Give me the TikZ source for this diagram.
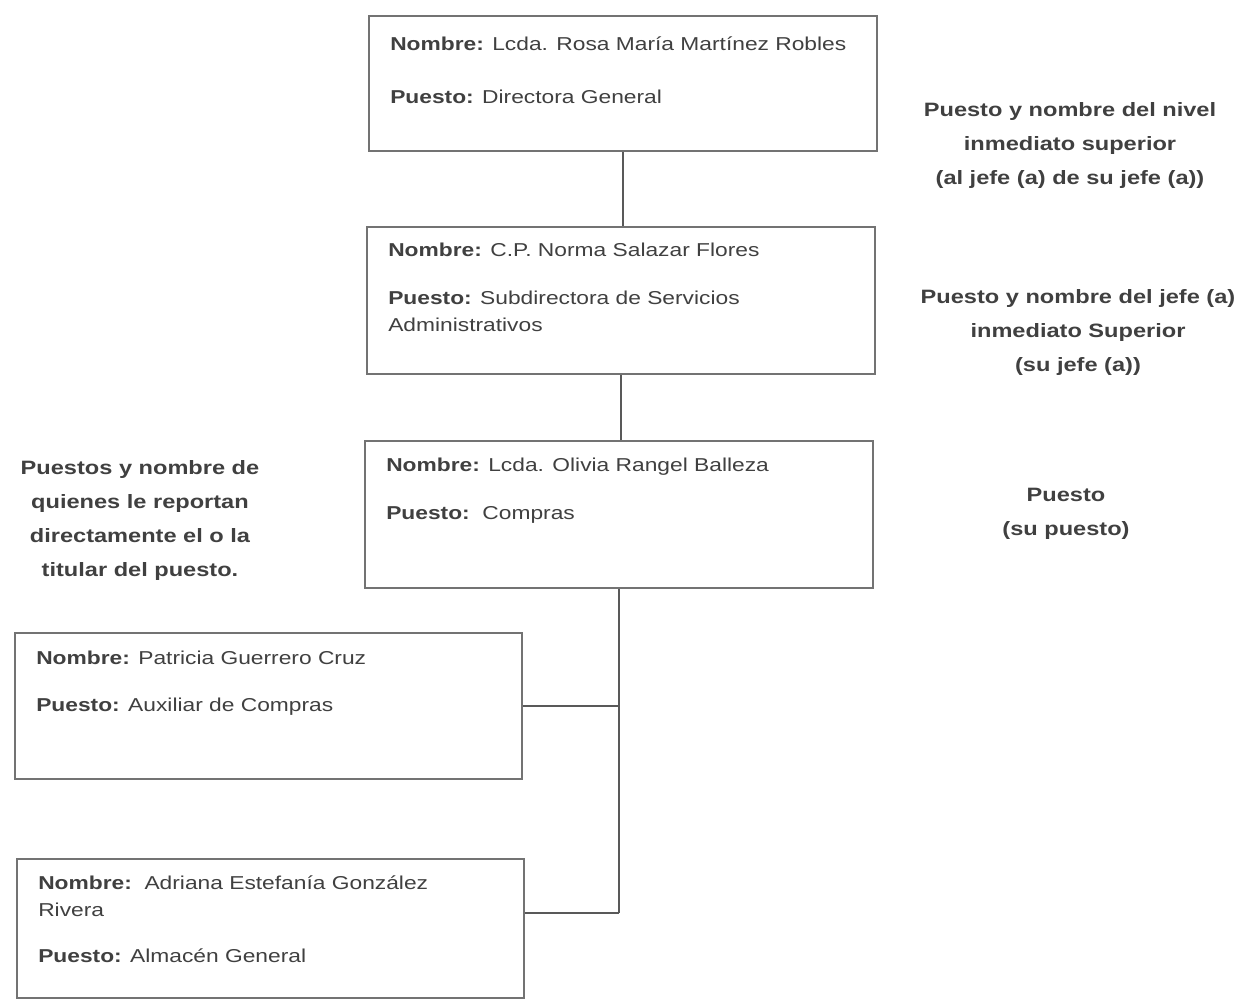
\documentclass[tikz,border=0pt]{standalone}
\usepackage{fontspec}
\setmainfont[FakeStretch=1.22]{Liberation Sans}
\begin{document}
\begin{tikzpicture}[x=0.75pt,y=-0.75pt,
  box/.style={draw=black!55,line width=1.6pt,anchor=north west,inner sep=0pt},
  txt/.style={anchor=base west,inner sep=0pt,font=\fontsize{14pt}{17pt}\selectfont,text=black!75},
  side/.style={align=center,inner sep=0pt,font=\fontsize{14.5pt}{25.5pt}\selectfont\bfseries,text=black!75},
  conn/.style={draw=black!65,line width=1.4pt}]
\useasboundingbox (0,0) rectangle (1239,1001);
\fill[white] (0,0) rectangle (1239,1001);
% boxes
\node[box,minimum width=381pt,minimum height=101.25pt] (b1) at (368,15) {};
\node[box,minimum width=381pt,minimum height=110.25pt] (b2) at (366,226) {};
\node[box,minimum width=381pt,minimum height=110.25pt] (b3) at (364,440) {};
\node[box,minimum width=380pt,minimum height=109.5pt] (b4) at (14,632) {};
\node[box,minimum width=380pt,minimum height=104.25pt] (b5) at (16,858) {};
% box texts
\node[txt] (t1a) at (390,50) {\textbf{Nombre:} Lcda. Rosa María Martínez Robles};
\node[txt] (t1b) at (390,103) {\textbf{Puesto:} Directora General};
\node[txt] (t2a) at (388,256) {\textbf{Nombre:} C.P. Norma Salazar Flores};
\node[txt] (t2b) at (388,304) {\textbf{Puesto:} Subdirectora de Servicios};
\node[txt] (t2c) at (388,331) {Administrativos};
\node[txt] (t3a) at (386,471) {\textbf{Nombre:} Lcda. Olivia Rangel Balleza};
\node[txt] (t3b) at (386,519) {\textbf{Puesto:}\ \ Compras};
\node[txt] (t4a) at (36,664) {\textbf{Nombre:} Patricia Guerrero Cruz};
\node[txt] (t4b) at (36,711) {\textbf{Puesto:} Auxiliar de Compras};
\node[txt] (t5a) at (38,889) {\textbf{Nombre:}\ \ Adriana Estefanía González};
\node[txt] (t5b) at (38,916) {Rivera};
\node[txt] (t5c) at (38,962) {\textbf{Puesto:} Almacén General};
% side texts
\node[side] (s1) at (1070,145) {Puesto y nombre del nivel\\inmediato superior\\(al jefe (a) de su jefe (a))};
\node[side] (s2) at (1078,332) {Puesto y nombre del jefe (a)\\inmediato Superior\\(su jefe (a))};
\node[side] (s3) at (1066,514) {Puesto\\(su puesto)};
\node[side] (s4) at (140,520) {Puestos y nombre de\\quienes le reportan\\directamente el o la\\titular del puesto.};
% connectors
\draw[conn] (b1.south) -- (b1.south |- b2.north);
\draw[conn] (b2.south) -- (b2.south |- b3.north);
\coordinate (j5) at (b3.south |- 0,913);
\draw[conn] (b3.south) -- (j5);
\draw[conn] (b4.east) -- (b4.east -| b3.south);
\draw[conn] (j5) -- (j5 -| b5.east);
\end{tikzpicture}
\end{document}
